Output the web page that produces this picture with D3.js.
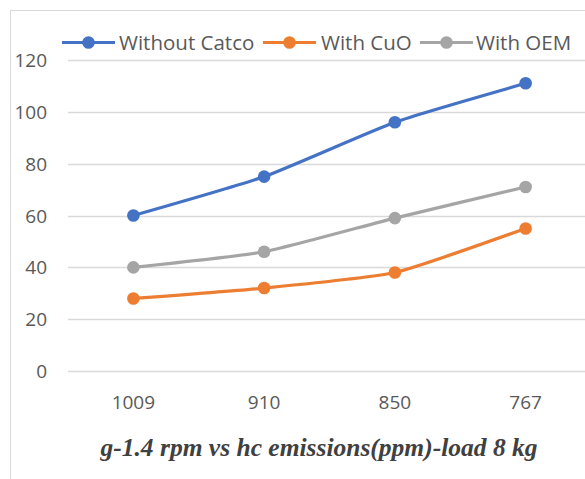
<!DOCTYPE html>
<html>
<head>
<meta charset="utf-8">
<script src="https://cdn.jsdelivr.net/npm/d3@7"></script>
<style>
  html, body { margin: 0; padding: 0; background: #fff; }
  svg { display: block; }
</style>
</head>
<body>
<svg id="chart" width="585" height="479"></svg>
<script>
// Engine speed (rpm) categories and HC emissions (ppm) per configuration
const categories = ["1009", "910", "850", "767"];
const withoutCatco = [60, 75, 96, 111];
const withCuO = [28, 32, 38, 55];
const withOEM = [40, 46, 59, 71];
const yTicks = [0, 20, 40, 60, 80, 100, 120];
const seriesNames = ["Without Catco", "With CuO", "With OEM"];
const chartTitle = "g-1.4 rpm vs hc emissions(ppm)-load 8 kg";

const series = [
  { name: seriesNames[0], values: withoutCatco, color: "#4472C4" },
  { name: seriesNames[1], values: withCuO, color: "#ED7D31" },
  { name: seriesNames[2], values: withOEM, color: "#A5A5A5" }
];

const svg = d3.select("#chart");
const textColor = "#595959";
const font = "'Open Sans', 'Noto Sans', sans-serif";

// chart frame
svg.append("rect")
  .attr("x", 10.5).attr("y", 10.5)
  .attr("width", 620).attr("height", 520)
  .attr("fill", "#fff").attr("stroke", "#D9D9D9").attr("stroke-width", 1);

const plot = { left: 68, right: 591, top: 60, bottom: 371 };

const x = d3.scaleBand().domain(categories).range([plot.left, plot.right]);
const y = d3.scaleLinear().domain([0, 120]).range([plot.bottom, plot.top]);

// horizontal gridlines
svg.append("g").selectAll("line").data(yTicks).join("line")
  .attr("x1", plot.left).attr("x2", plot.right)
  .attr("y1", d => Math.round(y(d)) + 0.5).attr("y2", d => Math.round(y(d)) + 0.5)
  .attr("stroke", "#D9D9D9").attr("stroke-width", 1.3);

// y axis labels
const yAxis = d3.axisLeft(y).tickValues(yTicks).tickSize(0).tickPadding(0);
const gy = svg.append("g").attr("transform", `translate(47,0)`).call(yAxis);
gy.select(".domain").remove();
gy.selectAll("text")
  .attr("fill", textColor).attr("font-family", font).attr("font-size", 19)
  .attr("dy", "0.35em");

// x axis labels
const xAxis = d3.axisBottom(x).tickSize(0).tickPadding(0);
const gx = svg.append("g").attr("transform", `translate(0,${plot.bottom})`).call(xAxis);
gx.select(".domain").remove();
gx.selectAll("text")
  .attr("fill", textColor).attr("font-family", font).attr("font-size", 19)
  .attr("y", 38).attr("dy", 0);

const cx = c => x(c) + x.bandwidth() / 2;

const line = d3.line()
  .x((d, i) => cx(categories[i]))
  .y(d => y(d))
  .curve(d3.curveCardinal.tension(0.5));

const sg = svg.append("g").selectAll("g").data(series).join("g");
sg.append("path")
  .attr("d", d => line(d.values))
  .attr("fill", "none").attr("stroke", d => d.color)
  .attr("stroke-width", 3.2).attr("stroke-linecap", "round");
sg.selectAll("circle").data(d => d.values.map(v => ({ v, color: d.color })))
  .join("circle")
  .attr("cx", (d, i) => cx(categories[i]))
  .attr("cy", d => y(d.v))
  .attr("r", 6.3)
  .attr("fill", d => d.color);

// legend
const legendItems = [
  { x0: 62, tx: 119 },
  { x0: 263, tx: 321 },
  { x0: 420, tx: 476 }
];
const ly = 42.5;
const lg = svg.append("g").selectAll("g").data(series).join("g");
lg.append("line")
  .attr("x1", (d, i) => legendItems[i].x0).attr("x2", (d, i) => legendItems[i].x0 + 53)
  .attr("y1", ly).attr("y2", ly)
  .attr("stroke", d => d.color).attr("stroke-width", 3.2);
lg.append("circle")
  .attr("cx", (d, i) => legendItems[i].x0 + 26.5).attr("cy", ly).attr("r", 6.3)
  .attr("fill", d => d.color);
lg.append("text")
  .attr("x", (d, i) => legendItems[i].tx).attr("y", ly).attr("dy", "0.35em")
  .attr("fill", textColor).attr("font-family", font).attr("font-size", 20.5)
  .text(d => d.name);

// chart title
svg.append("text")
  .attr("x", 319).attr("y", 456).attr("text-anchor", "middle")
  .attr("fill", "#404040")
  .attr("font-family", "'Liberation Serif', 'DejaVu Serif', serif")
  .attr("font-weight", "bold").attr("font-style", "italic")
  .attr("font-size", 25.5)
  .text(chartTitle);
</script>
</body>
</html>
